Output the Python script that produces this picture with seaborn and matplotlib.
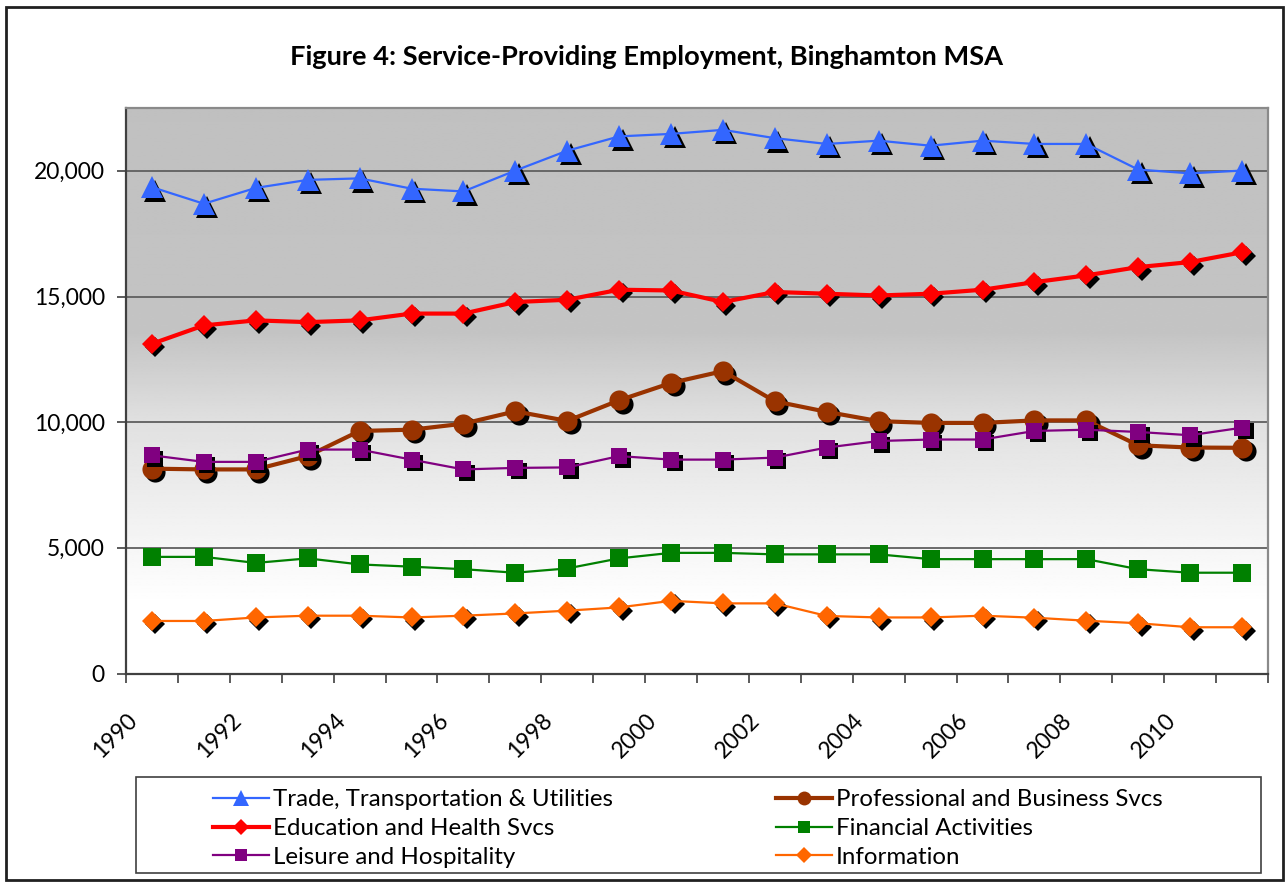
import numpy as np
import matplotlib
matplotlib.use("Agg")
import matplotlib.pyplot as plt
import matplotlib.transforms as mtransforms
from matplotlib.lines import Line2D
from matplotlib.patches import Rectangle
import seaborn as sns

# ---------------- data ----------------
years = list(range(1990, 2012))
trade = [19350, 18690, 19320, 19640, 19700, 19290, 19180, 20010, 20800, 21370,
         21470, 21630, 21300, 21070, 21200, 21000, 21200, 21070, 21070, 20050,
         19900, 20010]
professional = [8150, 8120, 8120, 8650, 9650, 9700, 9940, 10430, 10050, 10870,
                11560, 12030, 10830, 10410, 10040, 9970, 9970, 10070, 10070, 9080,
                8990, 8980]
education = [13120, 13850, 14050, 13980, 14050, 14320, 14320, 14780, 14870, 15270,
             15240, 14780, 15180, 15110, 15040, 15110, 15270, 15570, 15840, 16170,
             16370, 16760]
financial = [4640, 4640, 4400, 4580, 4340, 4250, 4150, 4010, 4180, 4580,
             4800, 4800, 4740, 4740, 4740, 4550, 4550, 4550, 4550, 4150,
             4010, 4010]
leisure = [8680, 8420, 8420, 8910, 8910, 8510, 8120, 8180, 8200, 8650,
           8510, 8510, 8590, 8990, 9250, 9310, 9310, 9650, 9700, 9610,
           9480, 9780]
information = [2090, 2090, 2230, 2300, 2300, 2230, 2300, 2390, 2500, 2630,
               2890, 2790, 2790, 2290, 2230, 2230, 2300, 2220, 2100, 2000,
               1840, 1840]

series_names = ["Trade, Transportation & Utilities", "Professional and Business Svcs",
                "Education and Health Svcs", "Financial Activities",
                "Leisure and Hospitality", "Information"]
series_values = [trade, professional, education, financial, leisure, information]
title = "Figure 4: Service-Providing Employment, Binghamton MSA"
y_ticks = [0, 5000, 10000, 15000, 20000]

# ---------------- styles ----------------
styles = [
    dict(color="#3366FF", marker="^", ms=16, lw=1.6, shadow=True, lms=11),
    dict(color="#993300", marker="o", ms=14.5, lw=3.0, shadow=True, lms=10),
    dict(color="#FF0000", marker="D", ms=10.5, lw=3.0, shadow=True, lms=8),
    dict(color="#008000", marker="s", ms=13.5, lw=1.6, shadow=False, lms=9),
    dict(color="#800080", marker="s", ms=11.5, lw=1.6, shadow=True, lms=9),
    dict(color="#FF6600", marker="D", ms=9.8, lw=1.6, shadow=True, lms=8),
]

W, H = 1287, 882
fig = plt.figure(figsize=(W / 100, H / 100), dpi=100)
plt.rcParams["font.family"] = ["Lato", "DejaVu Sans"]

ax_l, ax_r, ax_t, ax_b = 126, 1268, 108, 673.5
ax = fig.add_axes([ax_l / W, 1 - ax_b / H, (ax_r - ax_l) / W, (ax_b - ax_t) / H])

# gradient background
fr = np.linspace(0, 1, 400)
vals = np.interp(fr, [0, 0.12, 0.22, 0.44, 0.6, 1.0], [255, 255, 246, 225, 196, 192]) / 255
img = np.repeat(vals[:, None], 2, axis=1)
ax.imshow(img, cmap="gray", vmin=0, vmax=1, origin="lower", extent=[0, 1, 0, 1],
          transform=ax.transAxes, aspect="auto", zorder=0, interpolation="bilinear")

shadow_tr = mtransforms.offset_copy(ax.transData, fig=fig, x=3.5, y=-3.5, units="dots")
x_pos = np.array(years) + 0.5

z = 3
for name, vals_s, st in zip(series_names, series_values, styles):
    if st["shadow"]:
        sns.lineplot(x=x_pos, y=vals_s, ax=ax, color="black", marker=st["marker"],
                     markersize=st["ms"], markeredgewidth=0, linestyle="",
                     transform=shadow_tr, zorder=z, legend=False, errorbar=None)
    sns.lineplot(x=x_pos, y=vals_s, ax=ax, color=st["color"], marker=st["marker"],
                 markersize=st["ms"], markeredgewidth=0, linewidth=st["lw"],
                 zorder=z + 0.5, legend=False, errorbar=None)
    z += 1

ax.set_xlim(1990, 2012)
ax.set_ylim(0, 22500)
ax.set_xlabel("")
ax.set_ylabel("")
ax.set_yticks(y_ticks)
ax.set_yticklabels([f"{v:,}" for v in y_ticks])
xt = list(range(1990, 2013))
ax.set_xticks(xt)
ax.set_xticklabels([str(y) if (y % 2 == 0 and y < 2012) else "" for y in xt])
ax.set_axisbelow(True)
ax.yaxis.grid(True, color="#5f5f5f", linewidth=1.3)
ax.xaxis.grid(False)

for s in ["left", "bottom"]:
    ax.spines[s].set_color("#404040")
    ax.spines[s].set_linewidth(1.6)
for s in ["top", "right"]:
    ax.spines[s].set_color("#8a8a8a")
    ax.spines[s].set_linewidth(1.6)

ax.tick_params(axis="both", direction="out", length=6.2, width=1.2, color="#404040",
               labelsize=16.5, labelcolor="black")
ax.tick_params(axis="y", pad=9)
ax.tick_params(axis="x", pad=25)
x_shift = mtransforms.ScaledTranslation(8 / 100, 0, fig.dpi_scale_trans)
for lab in ax.get_xticklabels():
    lab.set_rotation(45)
    lab.set_ha("right")
    lab.set_va("center")
    lab.set_rotation_mode("anchor")
    lab.set_transform(lab.get_transform() + x_shift)

fig.text(647 / W, 1 - 57 / H, title, ha="center", va="center", fontsize=19.6,
         fontweight="bold")

# outer border
fig.patches.append(Rectangle((6 / W, 2 / H), (1283 - 6) / W, (880 - 7) / H,
                             transform=fig.transFigure, fill=False, edgecolor="#202020",
                             linewidth=2))
# legend box
fig.patches.append(Rectangle((136 / W, 1 - 873 / H), (1261 - 136) / W, 96 / H,
                             transform=fig.transFigure, fill=False, edgecolor="#404040",
                             linewidth=1.2))

handles = []
for name, st in zip(series_names, styles):
    handles.append(Line2D([0], [0], color=st["color"], marker=st["marker"],
                          markersize=st["lms"], markeredgewidth=0, linewidth=st["lw"],
                          label=name))
order = [0, 2, 4, 1, 3, 5]
leg = fig.legend([handles[i] for i in order], [series_names[i] for i in order],
                 loc="upper left", bbox_to_anchor=(213 / W, 1 - 789 / H),
                 bbox_transform=fig.transFigure, ncol=2, frameon=False, fontsize=17.3,
                 handlelength=2.35, handletextpad=0.13, labelspacing=0.33,
                 columnspacing=6.8, borderpad=0, borderaxespad=0)

fig.savefig("out.png", dpi=100)
